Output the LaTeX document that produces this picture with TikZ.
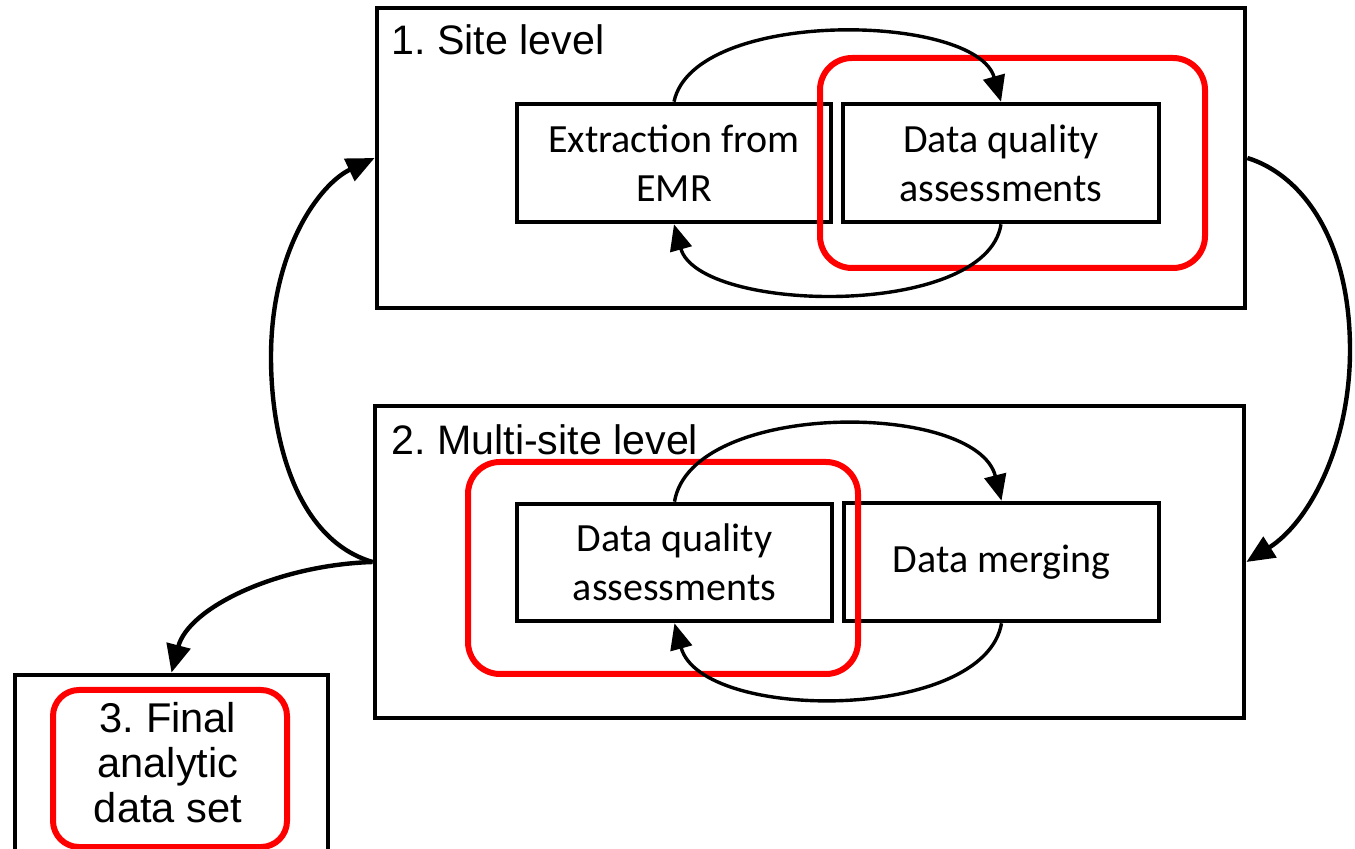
\documentclass[tikz,border=0pt]{standalone}
\usepackage{fontspec}
\setmainfont{Liberation Sans}
\newfontfamily\carlito{Carlito}
\usetikzlibrary{fit,arrows.meta}
\frenchspacing
\begin{document}
\begin{tikzpicture}[x=0.5pt,y=-0.5pt,
  frame/.style={draw=black, line width=2.4pt, inner sep=0pt},
  inbox/.style={draw=black, line width=2.3pt, inner sep=0pt},
  redbox/.style={draw=red, line width=3pt, rounded corners=16pt, inner sep=0pt},
  title/.style={anchor=base west, inner sep=0pt, font=\fontsize{20.6}{23}\selectfont},
  boxtext/.style={align=center, inner sep=0pt, font=\carlito\fontsize{20}{24.5}\selectfont},
  finaltext/.style={align=center, inner sep=0pt, font=\fontsize{20.8}{22.5}\selectfont},
  loop/.style={line width=1.7pt, -{Triangle[length=13pt,width=11pt]}},
  flow/.style={line width=2.2pt, -{Triangle[length=14pt,width=12pt]}},
]
\useasboundingbox (0,0) rectangle (1355,849);
\clip (0,0) rectangle (1355,849);

% outer frames
\node[frame, fit={(377,8) (1245,308)}] (site) {};
\node[frame, fit={(375,406) (1244,718)}] (multi) {};
\node[frame, fit={(15,675) (328,900)}] (final) {};

% titles
\node[title] (sitetitle) at (391,55) {1. Site level};
\node[title] (multititle) at (391,455) {2. Multi-site level};

% inner boxes
\node[inbox, fit={(517,104) (831,222)}] (ext) {};
\node[boxtext] (exttext) at (ext.center) {Extraction from\\EMR};
\node[inbox, fit={(843,104) (1159,222)}] (dq1) {};
\node[boxtext] (dq1text) at (dq1.center) {Data quality\\assessments};
\node[inbox, fit={(517,504) (832,621)}] (dq2) {};
\node[boxtext] (dq2text) at (dq2.center) {Data quality\\assessments};
\node[inbox, fit={(844,503) (1159,621)}] (dm) {};
\node[boxtext] (dmtext) at (dm.center) {Data merging};

% red highlights
\node[redbox, fit={(820,58) (1205,268)}] (red1) {};
\node[redbox, fit={(468,462) (858,674)}] (red2) {};
\node[redbox, rounded corners=13pt, fit={(53,690) (287,847)}] (red3) {};
\node[finaltext] (finaltxt) at (168,763) {3. Final\\analytic\\data set};

% loops inside levels
\draw[loop] (ext.north) .. controls +(20,-94) and +(-25,-89) .. (dq1.north);
\draw[loop] (dq1.south) .. controls +(-15,95) and +(25,89) .. (ext.south);
\draw[loop] (dq2.north) .. controls +(17,-102) and +(-25,-100) .. (dm.north);
\draw[loop] (dm.south) .. controls +(-17,99) and +(27,99) .. (dq2.south);

% flow between levels
\coordinate (rpeak) at (1350,350);
\coordinate (lpeak) at (271,357);
\draw[flow] (site.east) .. controls +(55,17) and +(0,-110) .. (rpeak)
  .. controls +(0,95) and +(63,-40) .. (multi.east);
\draw[flow] (multi.west) .. controls +(-75,-22) and +(0,85) .. (lpeak)
  .. controls +(0,-107) and +(-55,26) .. (site.west);
\draw[flow] (multi.west) .. controls +(-95,3) and +(17,-65) .. (final.north);
\end{tikzpicture}
\end{document}
